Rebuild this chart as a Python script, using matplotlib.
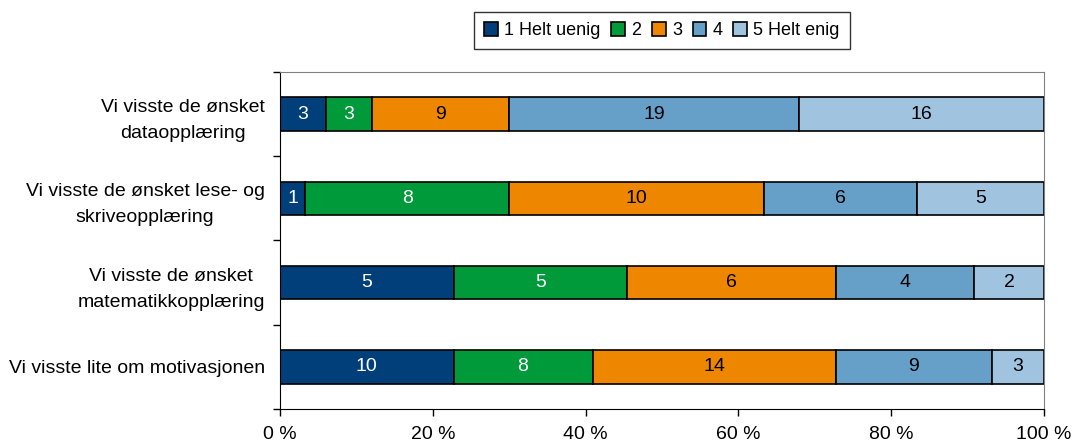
import numpy as np
import matplotlib
matplotlib.use('Agg')
import matplotlib.pyplot as plt

plt.rcParams['font.family'] = ['Liberation Sans', 'DejaVu Sans']

# data
categories = ['Vi visste de ønsket\ndataopplæring',
              'Vi visste de ønsket lese- og\nskriveopplæring',
              'Vi visste de ønsket\nmatematikkopplæring',
              'Vi visste lite om motivasjonen']
series = ['1 Helt uenig', '2', '3', '4', '5 Helt enig']
counts = np.array([[3, 3, 9, 19, 16],
                   [1, 8, 10, 6, 5],
                   [5, 5, 6, 4, 2],
                   [10, 8, 14, 9, 3]])
colors = ['#003F7A', '#009A3A', '#EE8600', '#66A0C8', '#A0C4E0']
text_colors = ['white', 'white', 'black', 'black', 'black']

fig = plt.figure(figsize=(10.74, 4.46), dpi=100)
ax = fig.add_axes([0.2607, 0.083, 0.7113, 0.7556])

share = counts / counts.sum(axis=1, keepdims=True) * 100
y = np.arange(len(categories))[::-1]
left = np.zeros(len(categories))
for j in range(len(series)):
    ax.barh(y, share[:, j], left=left, height=0.4, color=colors[j],
            edgecolor='black', linewidth=1.2, label=series[j])
    for i in range(len(categories)):
        ax.text(left[i] + share[i, j] / 2, y[i], str(counts[i, j]),
                ha='center', va='center', fontsize=14, color=text_colors[j])
    left += share[:, j]

ax.set_xlim(0, 100)
ax.set_ylim(-0.5, len(categories) - 0.5)
ax.set_xticks(np.arange(0, 101, 20))
ax.set_xticklabels([f'{v} %' for v in range(0, 101, 20)], fontsize=14)
ax.set_yticks(y)
ax.set_yticklabels(categories, fontsize=14, ha='right', multialignment='center',
                   linespacing=1.7)
ax.tick_params(axis='y', length=0, pad=11)
ax.set_yticks(np.arange(-0.5, len(categories), 1), minor=True)
ax.tick_params(axis='y', which='minor', length=5, width=1)
ax.tick_params(axis='x', length=5, width=1, pad=7)

for s in ['top', 'right']:
    ax.spines[s].set_color('#808080')
for s in ['left', 'bottom']:
    ax.spines[s].set_color('black')

leg = ax.legend(loc='center', bbox_to_anchor=(0.5, 1.122), ncol=5,
                fontsize=13, frameon=True, fancybox=False, edgecolor='black',
                handlelength=0.75, handleheight=0.75, handletextpad=0.35,
                columnspacing=0.6, borderpad=0.55)
leg.get_frame().set_linewidth(1)

fig.savefig('out.png', dpi=100)
